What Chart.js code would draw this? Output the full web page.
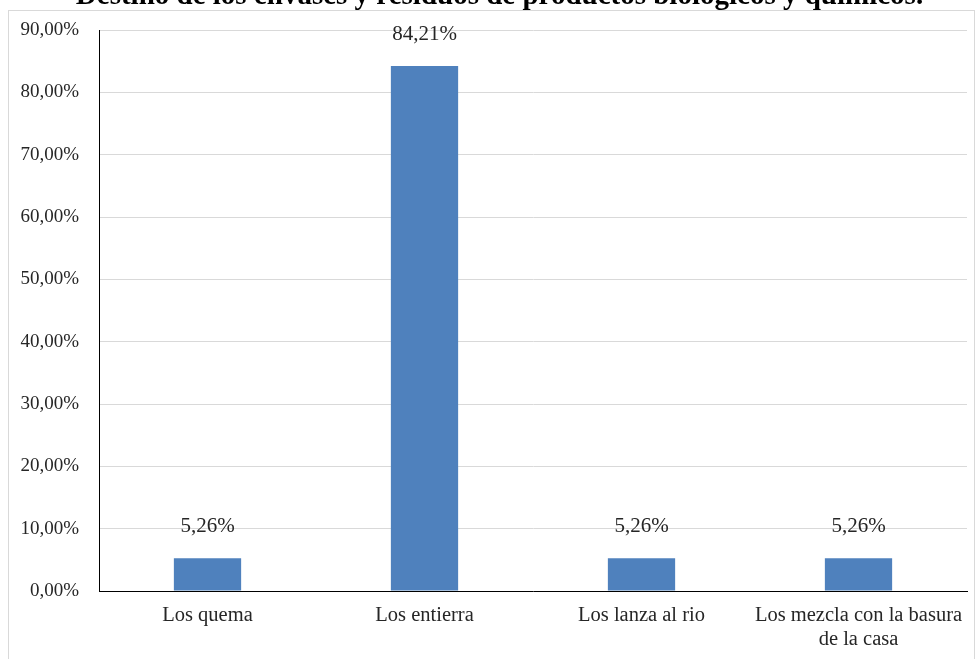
<!DOCTYPE html>
<html>
<head>
<meta charset="utf-8">
<script src="https://cdn.jsdelivr.net/npm/chart.js@4/dist/chart.umd.min.js"></script>
<style>
    html, body { margin: 0; padding: 0; background: #fff; overflow: hidden; }
    #wrap { position: relative; width: 979px; height: 659px; overflow: hidden; }
    #frame { position: absolute; left: 8px; top: 10px; width: 967px; height: 700px; border: 1px solid #d9d9d9; box-sizing: border-box; }
    #chart { position: absolute; left: 0; top: -20px; }
</style>
</head>
<body>
<div id="wrap">
    <div id="frame"></div>
    <canvas id="chart" width="979" height="679"></canvas>
</div>
<script>
// datos del gráfico
const titulo = 'Destino de los envases y residuos de productos biológicos y químicos.';
const categorias = [
    'Los quema',
    'Los entierra',
    'Los lanza al rio',
    ['Los mezcla con la basura', 'de la casa']
];
const porcentajes = [5.26, 84.21, 5.26, 5.26];
const ejeMax = 90;
const ejePaso = 10;

const fuente = 'Liberation Serif';

function formatoPct(v, dec) {
    return v.toFixed(dec).replace('.', ',') + '%';
}

// título y etiquetas de valor sobre cada barra
const etiquetasPlugin = {
    id: 'etiquetas',
    afterDatasetsDraw(chart) {
        const ctx = chart.ctx;
        ctx.save();
        ctx.fillStyle = '#262626';
        ctx.font = '21px "' + fuente + '"';
        ctx.textAlign = 'center';
        ctx.textBaseline = 'alphabetic';
        chart.getDatasetMeta(0).data.forEach((bar, i) => {
            ctx.fillText(formatoPct(porcentajes[i], 2), bar.x, bar.y - 26);
        });

        ctx.fillStyle = '#000';
        ctx.font = 'bold 29px "' + fuente + '"';
        ctx.fillText(titulo, chart.width / 2 + 10, 24);
        ctx.restore();
    }
};

new Chart(document.getElementById('chart'), {
    type: 'bar',
    data: {
        labels: categorias,
        datasets: [{
            data: porcentajes,
            backgroundColor: '#4F81BD',
            barPercentage: 0.31,
            categoryPercentage: 1
        }]
    },
    options: {
        responsive: false,
        animation: false,
        layout: {
            padding: { left: 9, right: 12, top: 50, bottom: 8 }
        },
        plugins: {
            legend: { display: false },
            tooltip: { enabled: false }
        },
        scales: {
            x: {
                grid: { display: false, drawTicks: false },
                border: { color: '#000', width: 1 },
                ticks: {
                    color: '#262626',
                    font: { family: fuente, size: 20.5, lineHeight: 1.2 },
                    maxRotation: 0,
                    autoSkip: false,
                    padding: 12
                },
                afterFit(scale) { scale.height = 60; }
            },
            y: {
                min: 0,
                max: ejeMax,
                grid: { color: '#d9d9d9', drawTicks: false },
                border: { color: '#000', width: 1 },
                ticks: {
                    stepSize: ejePaso,
                    color: '#262626',
                    font: { family: fuente, size: 19 },
                    padding: 20,
                    callback: v => formatoPct(v, 2)
                },
                afterFit(scale) { scale.width = 90; }
            }
        }
    },
    plugins: [etiquetasPlugin]
});
</script>
</body>
</html>
